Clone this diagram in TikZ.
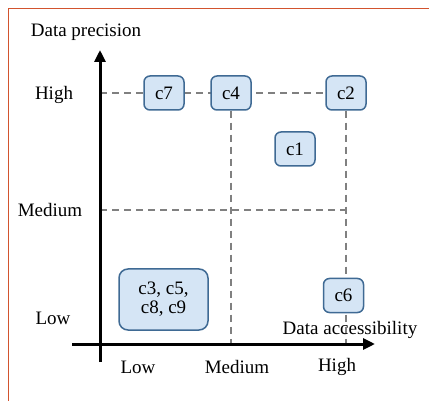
\documentclass[tikz,border=0pt]{standalone}
\usepackage{fontspec}
\setmainfont{Liberation Serif}
\usetikzlibrary{arrows.meta}
\definecolor{boxfill}{HTML}{D5E5F5}
\definecolor{boxdraw}{HTML}{3F6A94}
\definecolor{frameor}{HTML}{D2532E}
\definecolor{gridgray}{HTML}{808080}
\begin{document}
\begin{tikzpicture}[x=1pt,y=-1pt,
  lbl/.style={font=\fontsize{19}{22}\selectfont, inner sep=0pt},
  cbox/.style={draw=boxdraw, fill=boxfill, line width=1.5pt, rounded corners=6pt,
    font=\fontsize{19}{22}\selectfont, minimum width=40pt, minimum height=34pt, inner sep=2pt},
  gridline/.style={draw=gridgray, line width=1.6pt, dash pattern=on 7pt off 5pt},
  axis/.style={line width=3pt, -{Triangle[length=12pt,width=11pt]}}]
\useasboundingbox (0,0) rectangle (429,401);
\fill[white] (0,0) rectangle (429,401);
% frame
\draw[frameor, line width=1.5pt] (8.5,401) -- (8.5,8.5) -- (429,8.5);
% coordinates
\coordinate (ybot) at (100,362);
\coordinate (ytop) at (100,50);
\coordinate (xleft) at (72,344);
\coordinate (xright) at (375,344);
\coordinate (hy) at (100,93);
\coordinate (my) at (100,210);
\coordinate (mx) at (345,210);
\coordinate (v1) at (231,344);
\coordinate (v2) at (346,344);
% grid lines
\node[cbox] (c2) at (346,93) {c2};
\draw[gridline] (hy) -- (c2.west);
\draw[gridline] (my) -- (mx);
\draw[gridline] (c2.south) -- (v2);
% nodes
\node[cbox] (c7) at (164,93) {c7};
\node[cbox] (c4) at (231,93) {c4};
\draw[gridline] (c4.south) -- (v1);
\node[cbox] (c1) at (295,149) {c1};
\node[cbox, minimum width=89pt, minimum height=61pt, rounded corners=9pt, align=center] (c3) at (163.5,299.5) {c3, c5,\\[-3pt]c8, c9};
\node[cbox] (c6) at (343.5,295.5) {c6};
% axes
\draw[axis] (ybot) -- (ytop);
\draw[axis] (xleft) -- (xright);
% labels
\node[lbl] (yl) at (86,32) {Data precision};
\node[lbl] (yh) at (54,95) {High};
\node[lbl] (ym) at (50,210) {Medium};
\node[lbl] (ylo) at (53,318) {Low};
\node[lbl] (xl) at (350,330) {Data accessibility};
\node[lbl] (xlo) at (138,367) {Low};
\node[lbl] (xm) at (237,367) {Medium};
\node[lbl] (xh) at (337,367) {High};
\end{tikzpicture}
\end{document}
